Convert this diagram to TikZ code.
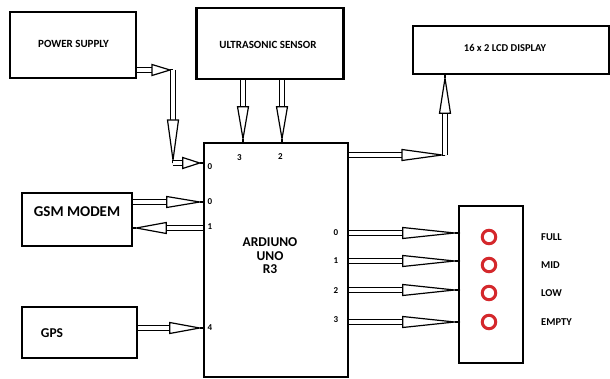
\documentclass[tikz,border=0pt]{standalone}
\usepackage{fontspec}
\setmainfont{Carlito}
\usetikzlibrary{calc}
\definecolor{ledred}{RGB}{212,40,44}
\tikzset{
  box/.style={draw, line width=2.6pt, inner sep=0pt},
  lbl/.style={font=\bfseries\fontsize{11}{12}\selectfont, inner sep=0pt},
  sml/.style={font=\bfseries\fontsize{10.5}{12}\selectfont, inner sep=0pt},
  big/.style={font=\bfseries\fontsize{13.5}{15}\selectfont, inner sep=0pt},
  pin/.style={font=\bfseries\fontsize{9}{10}\selectfont, inner sep=0pt},
  shaft/.style={double, double distance=3.4pt, line width=1.2pt},
  headst/.style={draw, fill=white, line width=1.2pt, line join=miter},
  arrline/.style={line width=1.4pt},
  led/.style={circle, draw=ledred, line width=3pt, minimum size=13.5pt, inner sep=0pt}
}
\newcommand\darr[3]{%
  \path (#2) coordinate (E) ($(#2)!3pt!(#1)$) coordinate (T) ($(T)!#3!(#1)$) coordinate (B);
  \draw[shaft] (#1) -- (B);
  \draw[headst] (T) -- ($(B)!5.5pt!90:(T)$) -- ($(B)!5.5pt!-90:(T)$) -- cycle;
  \draw[arrline] (T) -- (E);
}
\begin{document}
\begin{tikzpicture}[x=1pt,y=-1pt]
\useasboundingbox (0,0) rectangle (610,379);
% boxes
\node[box, minimum width=126pt, minimum height=66pt] (ps) at (73,45) {};
\node[box, minimum width=147pt, minimum height=71pt] (us) at (270,43.5) {};
\node[box, minimum width=196pt, minimum height=48pt] (lcd) at (511,50) {};
\node[box, minimum width=144pt, minimum height=234pt] (ard) at (276,260) {};
\node[box, minimum width=110pt, minimum height=53pt] (gsm) at (77,219.5) {};
\node[box, minimum width=115pt, minimum height=51pt] (gps) at (79.5,332.5) {};
\node[box, minimum width=64pt, minimum height=157pt] (led) at (491,284.5) {};
% texts
\node[lbl] (tps) at (73.5,44) {POWER SUPPLY};
\node[lbl] (tus) at (268,45) {ULTRASONIC SENSOR};
\node[sml] (tlcd) at (505,48) {16 x 2 LCD DISPLAY};
\node[big, font=\bfseries\fontsize{15}{16}\selectfont] (tgsm) at (77,212) {GSM MODEM};
\node[big] (tgps) at (52,333) {GPS};
\node[big, align=center, text depth=0pt] (tard) at (270,256) {ARDIUNO\\[-1.5pt]UNO\\[-1.5pt]R3};
% pin labels
\node[pin] (p0a) at (210,167) {0};
\node[pin] (p3) at (239.5,158) {3};
\node[pin] (p2) at (280.5,157) {2};
\node[pin] (p0b) at (210,202) {0};
\node[pin] (p1b) at (210,227) {1};
\node[pin] (p4) at (210,328) {4};
\node[pin] (r0) at (336,233) {0};
\node[pin] (r1) at (336,261) {1};
\node[pin] (r2) at (336,291) {2};
\node[pin] (r3) at (336,320) {3};
% LEDs
\node[led] (l1) at (489,237) {};
\node[led] (l2) at (489,265) {};
\node[led] (l3) at (489,293) {};
\node[led] (l4) at (489,322) {};
\node[sml, anchor=west] (f1) at (541,237) {FULL};
\node[sml, anchor=west] (f2) at (541,265) {MID};
\node[sml, anchor=west] (f3) at (541,293) {LOW};
\node[sml, anchor=west] (f4) at (541,322) {EMPTY};
% connector points
\coordinate (psa) at (ps.east |- 0,70);
\coordinate (c1) at (173,70);
\coordinate (c2) at (173,163);
\coordinate (ard0) at (ard.west |- 0,163);
\coordinate (usa) at (us.south -| 243,0);
\coordinate (usb) at (us.south -| 282,0);
\coordinate (arda) at (ard.north -| 243,0);
\coordinate (ardb) at (ard.north -| 282,0);
\coordinate (ardl) at (ard.east |- 0,155);
\coordinate (c3) at (445,155);
\coordinate (lcdb) at (lcd.south -| 445,0);
\coordinate (g0) at (gsm.east |- 0,202);
\coordinate (a0) at (ard.west |- 0,202);
\coordinate (g1) at (gsm.east |- 0,228);
\coordinate (a1) at (ard.west |- 0,228);
\coordinate (gp) at (gps.east |- 0,328);
\coordinate (a4) at (ard.west |- 0,328);
\foreach \i/\y in {0/233,1/261,2/290,3/322}{
  \coordinate (ro\i) at (ard.east |- 0,\y);
  \coordinate (li\i) at (led.west |- 0,\y);
}
% arrows
\darr{psa}{c1}{18pt}
\darr{c1}{c2}{40pt}
\darr{c2}{ard0}{17pt}
\darr{usa}{arda}{32pt}
\darr{usb}{ardb}{32pt}
\darr{ardl}{c3}{40pt}
\darr{c3}{lcdb}{35pt}
\darr{g0}{a0}{33pt}
\darr{a1}{g1}{30pt}
\darr{gp}{a4}{30pt}
\foreach \i in {0,1,2,3}{\darr{ro\i}{li\i}{52pt}}
\end{tikzpicture}
\end{document}
